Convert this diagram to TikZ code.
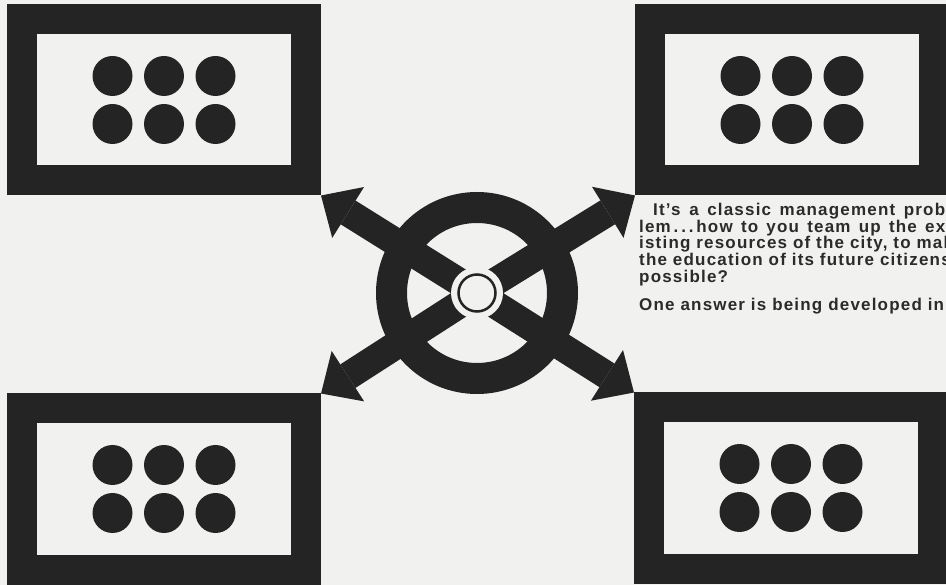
\documentclass[tikz,border=0pt]{standalone}
\usepackage{fontspec}
\setmainfont{Liberation Sans}
\newfontfamily\blurbfont{Liberation Sans}[LetterSpace=7]
\usepackage{xcolor}
\usepackage{tikz}
\usetikzlibrary{arrows.meta,calc}
\definecolor{printInk}{HTML}{242424}
\definecolor{printPaper}{HTML}{F1F1EF}
\definecolor{printText}{HTML}{2B2B2B}

\begin{document}
\begin{tikzpicture}[
  x=1pt, y=-1pt,
  panel/.style={rectangle, draw=printInk, line width=30pt, fill=printPaper, minimum width=284pt, minimum height=161pt, inner sep=0pt},
  seat/.style={fill=printInk},
  spoke/.style={-{Triangle[width=60pt, length=32pt, line width=0pt]}, line width=28pt, draw=printInk},
  blurb/.style={anchor=north west, align=left, text=printText, inner sep=0pt, font=\blurbfont\bfseries\fontsize{17}{16.7}\selectfont}
]
  \useasboundingbox (0,0) rectangle (946,585);
  \clip (0,0) rectangle (946,585);
  \fill[printPaper] (0,0) rectangle (946,585);

  \node[panel] (nw) at (164,100) {};
  \node[panel] (ne) at (792,100) {};
  \node[panel] (sw) at (164,489) {};
  \node[panel] (se) at (791,488) {};
  \foreach \p in {nw,ne,sw,se}
    \foreach \i in {-1,0,1}
      \foreach \j in {-1,1}
        \fill[seat] ($(\p)+(\i*51.5,\j*24)$) circle (20);

  \node[circle, draw=printInk, line width=31pt, minimum size=171pt, inner sep=0pt] (ring) at (477,293) {};
  \draw[spoke] (ring.center) -- (nw.south east);
  \draw[spoke] (ring.center) -- (ne.south west);
  \draw[spoke] (ring.center) -- (sw.north east);
  \draw[spoke] (ring.center) -- (se.north west);
  \fill[printPaper] (ring.center) circle (26);
  \node[circle, draw=printInk, line width=2.5pt, minimum size=37pt, inner sep=0pt] (core) at (ring.center) {};

  \node[blurb] (blurb) at (639,203) {\makebox[306pt][s]{\hspace*{14pt}It’s a classic management prob}\\
    \makebox[306pt][s]{lem\,.\,.\,.\,how to you team up the ex}\\
    isting resources of the city, to make\\
    the education of its future citizens\\
    possible?\\[11pt]
    One answer is being developed in};
\end{tikzpicture}
\end{document}
